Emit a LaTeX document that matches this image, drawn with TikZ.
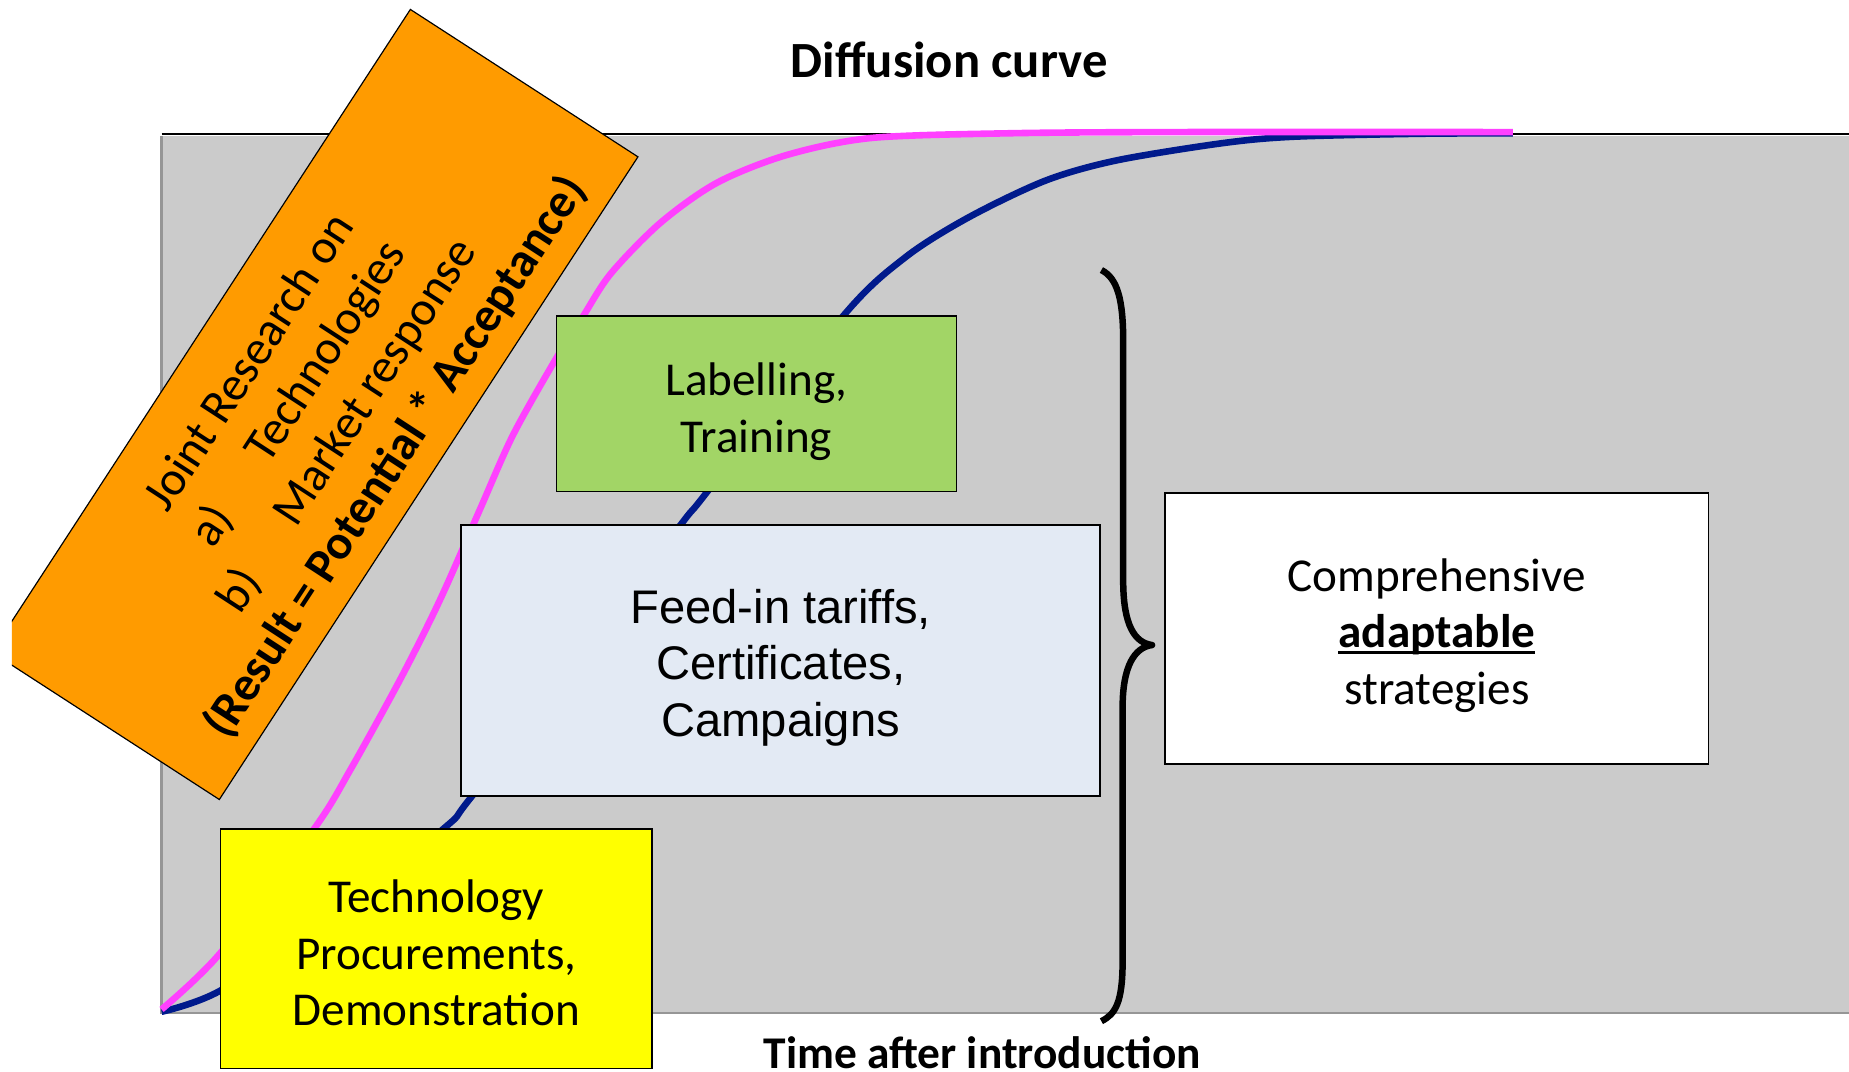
\documentclass[tikz,border=0pt]{standalone}
\usepackage{fontspec}
\setmainfont{Carlito}
\newfontfamily\arialfont{Liberation Sans}
\definecolor{chartgray}{HTML}{CBCBCB}
\definecolor{framegray}{HTML}{969696}
\definecolor{pinkc}{HTML}{FF40FF}
\definecolor{bluec}{HTML}{001A8C}
\definecolor{orangec}{HTML}{FF9B00}
\definecolor{greenc}{HTML}{A2D566}
\definecolor{feedc}{HTML}{E3EAF4}
\definecolor{yellowc}{HTML}{FFFF00}
\newcommand\thickul[1]{\setbox0\hbox{#1}\rlap{\copy0}\rule[-5.5pt]{\wd0}{2.6pt}}
\begin{document}
\begin{tikzpicture}[x=1pt,y=-1pt,
  box/.style={draw=black, line width=1.3pt, inner sep=0pt},
  boxfont/.style={align=center, inner sep=0pt, font=\fontsize{40pt}{48pt}\selectfont},
  curve/.style={line width=5.6pt, line join=round},
  titlefont/.style={inner sep=0pt, anchor=base}]
\useasboundingbox (0,0) rectangle (1568,909);
% chart area
\fill[chartgray] (137,115) rectangle (1568,859);
\draw[framegray, line width=2pt] (137,115) -- (137,859) -- (1568,859);
\draw[black, line width=1.8pt] (137,114) -- (1568,114);
% diffusion curves
\draw[bluec, curve] plot[smooth, tension=0.5] coordinates {(137,858) (187,840) (285,775) (377,702) (398,678) (490,560) (578,444) (599,418) (715,268) (768,218) (822,184) (887,153) (947,136) (1036,121.5) (1096,116) (1200,113.5) (1283,113)};
\draw[pinkc, curve] plot[smooth, tension=0.5] coordinates {(137,856) (187,808) (267,702) (297,653) (340,575) (373,509) (407,432) (435,369) (471,305) (494,269) (518,232) (560,189) (608,155) (667,131.5) (739,117) (857,113) (1000,112) (1283,112)};
% orange research box
\begin{scope}
\clip (10,0) rectangle (1568,909);
\draw[fill=orangec, draw=black, line width=1pt] (348,8) -- (541,133) -- (186,678) -- (-7,553) -- cycle;
\end{scope}
\node[rotate=56.9, align=center, inner sep=0pt, font=\fontsize{41pt}{49.2pt}\selectfont] (research) at (274.5,348)
  {Joint Research on\\ a)\hspace{1.3em}Technologies\\ b)\hspace{1.3em}Market response\\ \textbf{(Result = Potential * Acceptance)}};
% boxes
\node[box, fill=greenc, minimum width=339pt, minimum height=149pt] (label) at (641.5,342.5) {};
\node[boxfont] (labeltext) at (641.5,349) {Labelling,\\Training};
\node[box, fill=feedc, minimum width=542pt, minimum height=230pt] (feed) at (662,560) {};
\node[boxfont, font=\arialfont\fontsize{40pt}{48pt}\selectfont] (feedtext) at (662,566) {Feed-in tariffs,\\Certificates,\\Campaigns};
\node[box, fill=yellowc, minimum width=366pt, minimum height=203pt] (techproc) at (370,804.5) {};
\node[boxfont] (techproctext) at (370,808) {Technology\\Procurements,\\Demonstration};
\node[box, fill=white, minimum width=461pt, minimum height=230pt] (strat) at (1218.5,533) {};
\node[boxfont] (strattext) at (1218.5,539) {Comprehensive\\\thickul{\textbf{adaptable}}\\strategies};
% brace
\draw[black, line width=5.5pt, line join=round] (934,229) .. controls (948,236) and (952.5,255) .. (952.5,290) -- (952.5,495) .. controls (953,530) and (962,545) .. (977,547) .. controls (962,549) and (952,565) .. (952,600) -- (952,815) .. controls (952,850) and (946,860) .. (934,866);
% titles
\node[titlefont, font=\bfseries\fontsize{43pt}{50pt}\selectfont] (title) at (805,65.5) {Diffusion curve};
\node[titlefont, font=\bfseries\fontsize{38.5pt}{46pt}\selectfont] (xlabel) at (833,906) {Time after introduction};
\end{tikzpicture}
\end{document}
